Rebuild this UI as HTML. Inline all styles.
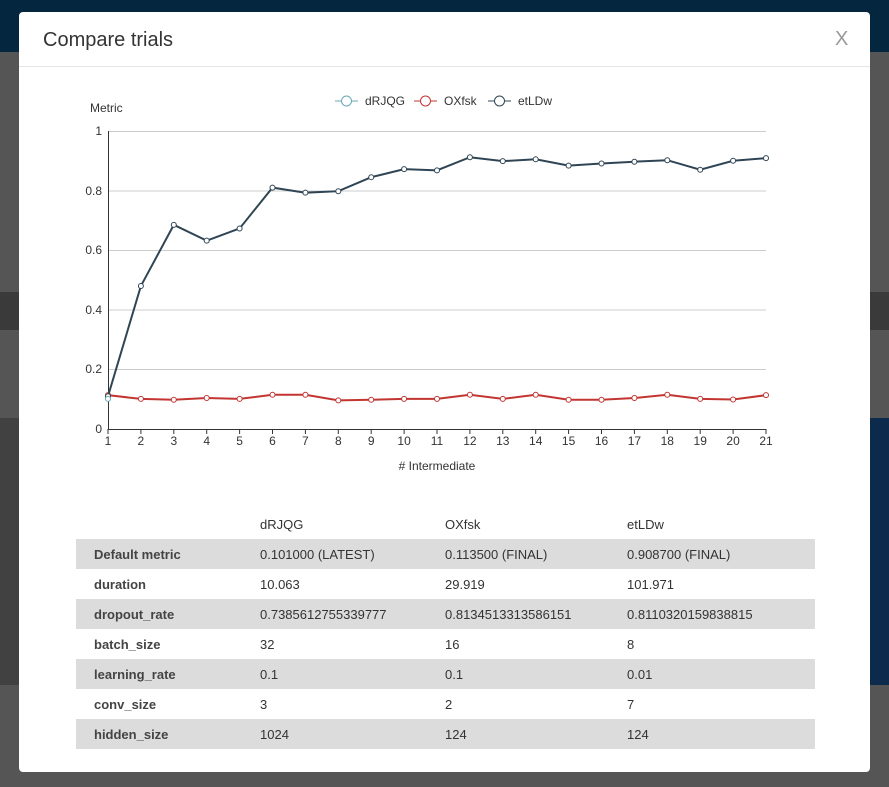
<!DOCTYPE html>
<html><head><meta charset="utf-8"><style>
body{margin:0;width:889px;height:787px;position:relative;overflow:hidden;background:#555;font-family:"Liberation Sans",sans-serif;}
.b{position:absolute;}
.dlg{position:absolute;left:19px;top:12px;width:851px;height:760px;background:#fff;border-radius:4px;}
table{position:absolute;left:76px;top:509px;width:739px;border-collapse:collapse;font-size:13px;color:#333;}
td{height:30px;padding:0;}
td:first-child{padding-left:18px;width:166px;font-weight:bold;color:#444}
td:nth-child(2){width:185px}td:nth-child(3){width:182px}
tr.g td{background:#dcdcdc}
</style></head><body>
<div class="b" style="left:0;top:0;width:889px;height:52px;background:#05263f"></div>
<div class="b" style="left:0;top:292px;width:889px;height:38px;background:#3a3a3a"></div>
<div class="b" style="left:0;top:418px;width:889px;height:267px;background:#414141"></div>
<div class="b" style="left:860px;top:418px;width:29px;height:267px;background:#0b2a4c"></div>
<div class="dlg">
<div style="position:absolute;left:24px;top:17px;font-size:20px;color:#333">Compare trials</div>
<div style="position:absolute;left:816px;top:16px;font-size:20px;color:#999">X</div>
<div style="position:absolute;left:0;top:54px;width:851px;height:1px;background:#e5e5e5"></div>
</div>
<svg class="b" style="left:0;top:0" width="889" height="787" font-family="Liberation Sans, sans-serif" font-size="12" fill="#333">
<g stroke="#ccc" stroke-width="1">
<line x1="108" y1="131.5" x2="766" y2="131.5"/><line x1="108" y1="191" x2="766" y2="191"/><line x1="108" y1="250.5" x2="766" y2="250.5"/><line x1="108" y1="310" x2="766" y2="310"/><line x1="108" y1="369.5" x2="766" y2="369.5"/>
</g>
<g stroke="#333"><line x1="108.5" y1="131" x2="108.5" y2="429"/><line x1="108" y1="429.5" x2="766" y2="429.5"/></g>
<g text-anchor="end"><text x="102" y="135">1</text><text x="102" y="195">0.8</text><text x="102" y="254">0.6</text><text x="102" y="314">0.4</text><text x="102" y="373">0.2</text><text x="102" y="433">0</text></g>
<text x="90" y="112">Metric</text>
<text x="437" y="470" text-anchor="middle">#&#160;Intermediate</text>
<g id="xt" text-anchor="middle"></g>
<g font-size="12">
<line x1="335" y1="101" x2="358" y2="101" stroke="#6aaab5"/><circle cx="346.5" cy="101" r="5" fill="#fff" stroke="#6aaab5"/><text x="365" y="105">dRJQG</text>
<line x1="414" y1="101" x2="437" y2="101" stroke="#c23531"/><circle cx="425.5" cy="101" r="5" fill="#fff" stroke="#c23531"/><text x="444" y="105">OXfsk</text>
<line x1="488" y1="101" x2="511" y2="101" stroke="#2f4554"/><circle cx="499.5" cy="101" r="5" fill="#fff" stroke="#2f4554"/><text x="518" y="105">etLDw</text>
</g>
<g id="s"></g>
</svg>
<table>
<tr><td></td><td>dRJQG</td><td>OXfsk</td><td>etLDw</td></tr>
<tr class="g"><td>Default metric</td><td>0.101000 (LATEST)</td><td>0.113500 (FINAL)</td><td>0.908700 (FINAL)</td></tr>
<tr><td>duration</td><td>10.063</td><td>29.919</td><td>101.971</td></tr>
<tr class="g"><td>dropout_rate</td><td>0.7385612755339777</td><td>0.8134513313586151</td><td>0.8110320159838815</td></tr>
<tr><td>batch_size</td><td>32</td><td>16</td><td>8</td></tr>
<tr class="g"><td>learning_rate</td><td>0.1</td><td>0.1</td><td>0.01</td></tr>
<tr><td>conv_size</td><td>3</td><td>2</td><td>7</td></tr>
<tr class="g"><td>hidden_size</td><td>1024</td><td>124</td><td>124</td></tr>
</table>
<script>
var X=i=>108+i*32.9,Y=v=>429-v*298,ns="http://www.w3.org/2000/svg";
var xt=document.getElementById('xt'),s=document.getElementById('s');
for(var i=0;i<21;i++){var t=document.createElementNS(ns,'text');t.setAttribute('x',X(i));t.setAttribute('y',445);t.textContent=i+1;xt.appendChild(t);
var l=document.createElementNS(ns,'line');l.setAttribute('x1',X(i));l.setAttribute('x2',X(i));l.setAttribute('y1',429);l.setAttribute('y2',434);l.setAttribute('stroke','#333');xt.appendChild(l);}
var red=[0.1135,0.101,0.098,0.104,0.101,0.115,0.115,0.096,0.098,0.101,0.101,0.115,0.101,0.115,0.098,0.098,0.104,0.115,0.101,0.099,0.1135];
var blk=[0.11,0.48,0.685,0.632,0.673,0.81,0.793,0.798,0.845,0.872,0.868,0.912,0.899,0.905,0.884,0.891,0.897,0.902,0.87,0.9,0.909];
function draw(d,c){var p=document.createElementNS(ns,'polyline');p.setAttribute('points',d.map((v,i)=>X(i)+','+Y(v)).join(' '));p.setAttribute('fill','none');p.setAttribute('stroke',c);p.setAttribute('stroke-width',2);s.appendChild(p);
d.forEach((v,i)=>{var q=document.createElementNS(ns,'circle');q.setAttribute('cx',X(i));q.setAttribute('cy',Y(v));q.setAttribute('r',2.5);q.setAttribute('fill','#fff');q.setAttribute('stroke',c);s.appendChild(q);});}
draw(red,'#c23531');draw(blk,'#2f4554');
var q=document.createElementNS(ns,'circle');q.setAttribute('cx',108);q.setAttribute('cy',Y(0.101));q.setAttribute('r',2.5);q.setAttribute('fill','#fff');q.setAttribute('stroke','#6aaab5');s.appendChild(q);
</script>
</body></html>
